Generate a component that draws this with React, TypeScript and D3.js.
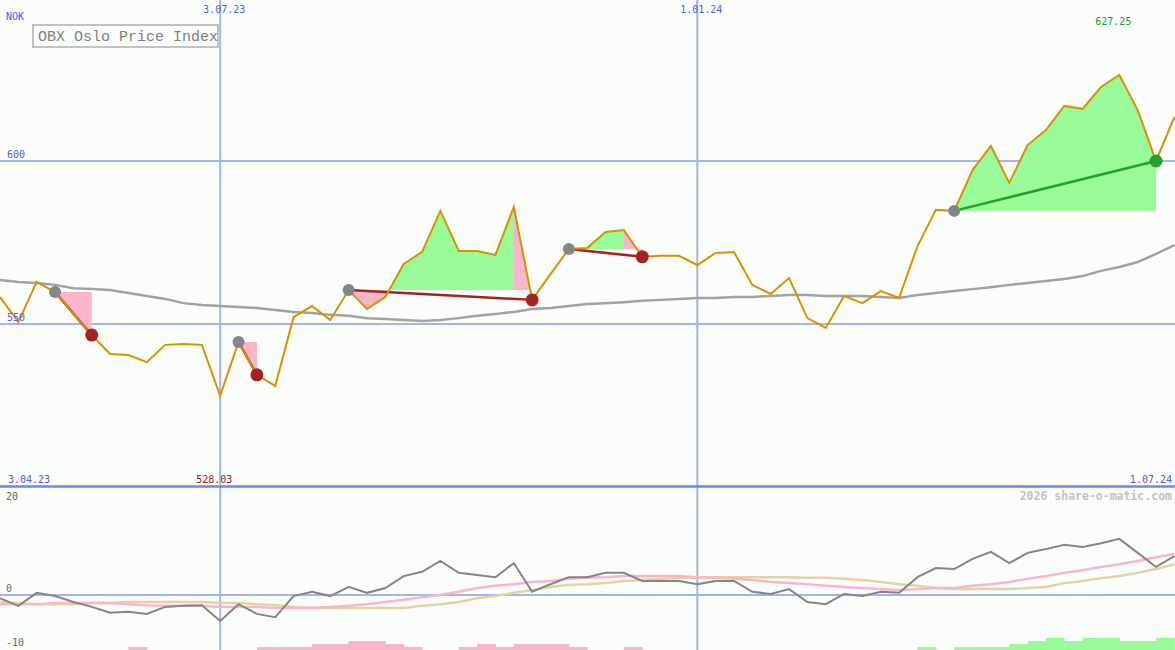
import React, { useRef, useEffect } from 'react';
import * as d3 from 'd3';

// weekly closes, Mondays from 10 Apr 2023 to 1 Jul 2024
const startDate = new Date(Date.UTC(2023, 3, 10));
const endDate = new Date(Date.UTC(2024, 6, 1));
const weeks = d3.utcMonday.range(startDate, d3.utcDay.offset(endDate, 1));

const price = [
  558.3, 550.6, 562.9, 559.8, 553.2, 546.6, 540.8, 540.5, 538.3, 543.6,
  543.9, 543.6, 528.0, 544.5, 534.4, 531.0, 552.1, 555.5, 551.2, 560.4,
  554.6, 558.3, 568.4, 572.1, 584.7, 572.4, 572.4, 571.2, 585.9, 557.4,
  565.3, 573.0, 573.3, 578.2, 578.8, 570.6, 570.9, 570.9, 568.1, 571.8,
  572.1, 562.0, 559.2, 564.1, 551.8, 548.8, 558.6, 556.4, 560.1, 558.0,
  573.9, 585.0, 584.7, 597.2, 604.6, 593.3, 604.9, 609.5, 616.9, 616.0,
  622.7, 626.4, 615.6, 600.0, 613.5,
];

const movingAvg = [
  563.5, 562.9, 562.6, 562.0, 561.0, 560.7, 560.4, 559.5, 558.6, 557.7,
  556.4, 555.8, 555.5, 555.2, 554.9, 554.3, 553.7, 553.4, 552.8, 552.5,
  551.8, 551.5, 551.2, 550.9, 551.2, 551.8, 552.5, 553.1, 553.7, 554.6,
  554.9, 555.5, 556.1, 556.4, 556.7, 557.1, 557.4, 557.7, 558.0, 558.0,
  558.3, 558.3, 558.6, 558.9, 558.9, 558.6, 558.6, 558.6, 558.3, 558.0,
  558.9, 559.5, 560.1, 560.7, 561.3, 562.0, 562.6, 563.2, 563.8, 564.7,
  566.3, 567.5, 569.0, 571.5, 574.2,
];

// lower panel
const momentum = [
  -0.6, -2.0, 0.4, -0.2, -1.3, -2.2, -3.3, -3.1, -3.5, -2.2,
  -2.0, -1.9, -4.8, -1.7, -3.5, -4.1, -0.2, 0.6, -0.2, 1.5,
  0.4, 1.3, 3.5, 4.3, 6.3, 4.1, 3.7, 3.3, 5.9, 0.6,
  2.0, 3.3, 3.3, 4.1, 4.1, 2.6, 2.6, 2.6, 2.0, 2.6,
  2.6, 0.6, 0.2, 1.1, -1.3, -1.7, 0.2, -0.2, 0.6, 0.4,
  3.3, 5.0, 4.8, 6.7, 8.0, 5.9, 7.8, 8.5, 9.3, 8.9,
  9.6, 10.4, 7.8, 5.2, 7.2,
];

const fastAvg = [
  -1.7, -1.7, -1.7, -1.5, -1.5, -1.5, -1.5, -1.7, -1.9, -2.0,
  -2.0, -2.0, -2.2, -2.2, -2.2, -2.4, -2.4, -2.4, -2.2, -2.0,
  -1.7, -1.3, -0.9, -0.4, 0, 0.6, 1.3, 1.7, 2.0, 2.4,
  2.6, 3.0, 3.2, 3.3, 3.5, 3.5, 3.5, 3.5, 3.3, 3.2,
  3.0, 2.8, 2.4, 2.2, 2.0, 1.7, 1.5, 1.3, 1.1, 0.9,
  1.1, 1.3, 1.3, 1.7, 2.0, 2.4, 3.0, 3.5, 4.1, 4.6,
  5.2, 5.7, 6.3, 7.0, 7.6,
];

const slowAvg = [
  -1.3, -1.5, -1.7, -1.7, -1.7, -1.5, -1.5, -1.3, -1.3, -1.3,
  -1.3, -1.3, -1.5, -1.5, -1.7, -1.9, -2.2, -2.4, -2.4, -2.4,
  -2.4, -2.4, -2.4, -2.0, -1.7, -1.3, -0.6, -0.2, 0.4, 0.9,
  1.5, 1.9, 2.0, 2.2, 2.6, 2.8, 3.0, 3.2, 3.2, 3.3,
  3.3, 3.3, 3.3, 3.3, 3.2, 3.2, 3.0, 2.8, 2.4, 2.0,
  1.7, 1.3, 1.1, 1.1, 1.1, 1.1, 1.3, 1.5, 2.2, 2.6,
  3.1, 3.5, 4.1, 4.8, 5.7,
];

// one bar per week, starting at that week
const histogram = [
  0, 0, 0, 0, 0, 0, 0, -1, 0, 0,
  0, 0, 0, 0, -1, -1, -1, -2, -2, -3,
  -3, -2, -1, 0, 0, -1, -2, -1, -2, -2,
  -2, -1, 0, 0, -1, 0, 0, 0, 0, 0,
  0, 0, 0, 0, 0, 0, 0, 0, 0, 0,
  1, 0, 1, 1, 1, 2, 3, 4, 3, 4,
  4, 3, 3, 4,
];

// signals: index of entry and exit week
const trades = [
  { start: 3, end: 5 },
  { start: 13, end: 14 },
  { start: 19, end: 29 },
  { start: 31, end: 35 },
  { start: 52, end: 63 },
];

const gridDates = [new Date(Date.UTC(2023, 6, 3)), new Date(Date.UTC(2024, 0, 1))];
const priceTicks = [550, 600];
const lowerTicks = [20, 0, -10];
const firstLabel = '3.04.23';
const lastLabel = '1.07.24';
const minLabel = '528.03';
const maxLabel = '627.25';
const title = 'OBX Oslo Price Index';
const currency = 'NOK';
const credit = '2026 share-o-matic.com';

const GREEN = '#98fb98';
const PINK = '#f9b6ca';
const MONO = '"DejaVu Sans Mono", monospace';

export default function App() {
  const svgRef = useRef<SVGSVGElement>(null);

  useEffect(() => {
    if (!svgRef.current) return;
    const width = 1175;
    const height = 650;
    const splitY = 487;

    const svg = d3.select(svgRef.current);
    svg.selectAll('*').remove();
    svg.attr('width', width).attr('height', height);

    const x = d3.scaleUtc().domain([startDate, endDate]).range([0, 1174.4]);
    const y = d3.scaleLinear().domain([500, 650]).range([splitY, -2]);
    const yLow = d3.scaleLinear().domain([-10, 20]).range([649, splitY]);
    const barH = d3.scaleLinear().domain([0, 4]).range([0, 12]);
    const fmt = d3.utcFormat('%-d.%m.%y');
    const xi = (i: number) => x(weeks[i]);

    svg.append('rect').attr('width', width).attr('height', height).attr('fill', '#fbfdfb');
    const defs = svg.append('defs');

    // grid
    svg
      .selectAll('.vgrid')
      .data(gridDates)
      .enter()
      .append('line')
      .attr('x1', (d) => x(d))
      .attr('x2', (d) => x(d))
      .attr('y1', 0)
      .attr('y2', height)
      .attr('stroke', '#a3b3f2')
      .attr('stroke-width', 2);

    svg
      .selectAll('.hgrid')
      .data(priceTicks)
      .enter()
      .append('line')
      .attr('x1', 0)
      .attr('x2', width)
      .attr('y1', (d) => y(d))
      .attr('y2', (d) => y(d))
      .attr('stroke', '#a3b3f2')
      .attr('stroke-width', 2);

    svg
      .append('line')
      .attr('x1', 0)
      .attr('x2', width)
      .attr('y1', yLow(0))
      .attr('y2', yLow(0))
      .attr('stroke', '#a3b3f2')
      .attr('stroke-width', 2);

    // trade fills
    trades.forEach((t, k) => {
      const level = price[t.start];
      const yl = y(level);
      const win = price[t.end] > level;
      defs
        .append('clipPath')
        .attr('id', `above${k}`)
        .append('rect')
        .attr('x', 0)
        .attr('y', 0)
        .attr('width', width)
        .attr('height', yl);
      defs
        .append('clipPath')
        .attr('id', `below${k}`)
        .append('rect')
        .attr('x', 0)
        .attr('y', yl)
        .attr('width', width)
        .attr('height', splitY - yl);

      const area = d3
        .area<number>()
        .x((i) => xi(i))
        .y0(yl)
        .y1((i) => y(price[i]));
      const idx = d3.range(t.start, t.end + 1);

      svg.append('path').attr('d', area(idx)).attr('fill', GREEN).attr('clip-path', `url(#above${k})`);
      svg.append('path').attr('d', area(idx)).attr('fill', PINK).attr('clip-path', `url(#below${k})`);
      if (!win) {
        svg
          .append('path')
          .attr('d', area([t.end - 1, t.end]))
          .attr('fill', PINK)
          .attr('clip-path', `url(#above${k})`);
      }
    });

    // moving average
    const line = d3
      .line<number>()
      .x((_, i) => xi(i))
      .y((d) => y(d));
    svg
      .append('path')
      .datum(movingAvg)
      .attr('fill', 'none')
      .attr('stroke', '#a2a2a2')
      .attr('stroke-width', 2.5)
      .attr('d', line);

    // trade lines
    trades.forEach((t) => {
      const win = price[t.end] > price[t.start];
      svg
        .append('line')
        .attr('x1', xi(t.start))
        .attr('y1', y(price[t.start]))
        .attr('x2', xi(t.end))
        .attr('y2', y(price[t.end]))
        .attr('stroke', win ? '#28a028' : '#a52222')
        .attr('stroke-width', 2.5);
    });

    // price
    svg
      .append('path')
      .datum(price)
      .attr('fill', 'none')
      .attr('stroke', '#da9100')
      .attr('stroke-width', 2)
      .attr('stroke-linejoin', 'miter')
      .attr('d', line);

    // signal dots
    trades.forEach((t) => {
      const win = price[t.end] > price[t.start];
      svg
        .append('circle')
        .attr('cx', xi(t.start))
        .attr('cy', y(price[t.start]))
        .attr('r', 6)
        .attr('fill', '#858585');
      svg
        .append('circle')
        .attr('cx', xi(t.end))
        .attr('cy', y(price[t.end]))
        .attr('r', 6.5)
        .attr('fill', win ? '#28a028' : '#a52222');
    });

    // separator
    svg
      .append('line')
      .attr('x1', 0)
      .attr('x2', width)
      .attr('y1', splitY - 0.5)
      .attr('y2', splitY - 0.5)
      .attr('stroke', '#7484ee')
      .attr('stroke-width', 2.5);

    // lower panel
    const lowLine = d3
      .line<number>()
      .x((_, i) => xi(i))
      .y((d) => yLow(d));
    [
      { data: slowAvg, color: '#e3d2a2', w: 2.5 },
      { data: fastAvg, color: '#f9b6ca', w: 2.5 },
      { data: momentum, color: '#858585', w: 2 },
    ].forEach((s) => {
      svg
        .append('path')
        .datum(s.data)
        .attr('fill', 'none')
        .attr('stroke', s.color)
        .attr('stroke-width', s.w)
        .attr('d', lowLine);
    });

    svg
      .selectAll('.bar')
      .data(histogram)
      .enter()
      .append('rect')
      .attr('x', (_, i) => xi(i))
      .attr('width', (_, i) => xi(i + 1) - xi(i) + 0.5)
      .attr('y', (d) => height - barH(Math.abs(d)))
      .attr('height', (d) => barH(Math.abs(d)))
      .attr('fill', (d) => (d > 0 ? GREEN : PINK));

    // texts
    const text = (tx: string, px: number, py: number, color: string, anchor = 'start', size = 10) =>
      svg
        .append('text')
        .attr('x', px)
        .attr('y', py)
        .attr('fill', color)
        .attr('font-family', MONO)
        .attr('font-size', size)
        .attr('text-anchor', anchor)
        .text(tx);

    const blue = '#4a5cf0';
    gridDates.forEach((d) => text(fmt(d), x(d) + 4, 13, blue, 'middle'));
    priceTicks.forEach((v) => text(String(v), 7, y(v) - 3, blue));
    text(currency, 6, 20, blue);
    text(firstLabel, 8, 483, blue);
    text(lastLabel, 1172, 483, blue, 'end');

    const iMin = d3.minIndex(price);
    const iMax = d3.maxIndex(price);
    text(minLabel, xi(iMin) - 6, 483, '#a01818', 'middle');
    text(maxLabel, xi(iMax) - 6, 25, '#229922', 'middle');

    lowerTicks.forEach((v) => {
      const py = yLow(v);
      text(String(v), 6, py - 3 < splitY + 8 ? py + 13 : py - 3, '#666666');
    });
    text(credit, 1172, 500, '#c3c3c3', 'end', 11.5).attr('font-weight', 'bold');

    // legend box
    svg
      .append('rect')
      .attr('x', 33)
      .attr('y', 25)
      .attr('width', 185)
      .attr('height', 22)
      .attr('fill', '#fbfdfb')
      .attr('stroke', '#c2c2c2')
      .attr('stroke-width', 2);
    svg
      .append('text')
      .attr('x', 38)
      .attr('y', 41)
      .attr('fill', '#808080')
      .attr('font-family', '"Liberation Mono", monospace')
      .attr('font-size', 15)
      .text(title);
  }, []);

  return (
    <div>
      <style>{'body{margin:0}'}</style>
      <svg ref={svgRef} style={{ display: 'block' }}></svg>
    </div>
  );
}
